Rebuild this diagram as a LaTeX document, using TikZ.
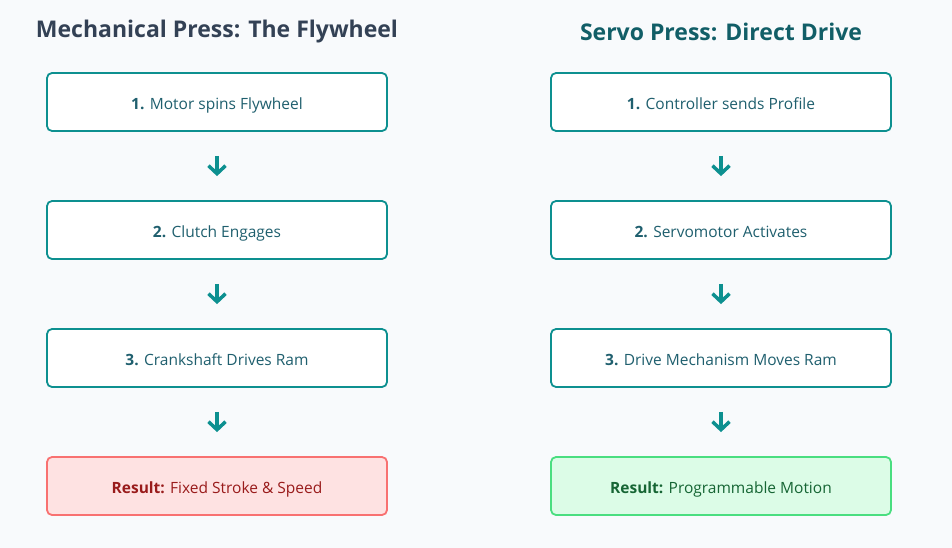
\documentclass[tikz,border=0pt]{standalone}
\usepackage{fontspec}
\setmainfont{Open Sans}
\usetikzlibrary{arrows.meta}
\definecolor{bg}{HTML}{F8FAFC}
\definecolor{teal}{HTML}{0D9090}
\definecolor{boxtxt}{HTML}{1F5F6E}
\definecolor{ltitle}{HTML}{334155}
\definecolor{rtitle}{HTML}{115E67}
\definecolor{redfill}{HTML}{FEE2E2}
\definecolor{redbd}{HTML}{F87171}
\definecolor{redtxt}{HTML}{991B1B}
\definecolor{grfill}{HTML}{DCFCE7}
\definecolor{grbd}{HTML}{4ADE80}
\definecolor{grtxt}{HTML}{166534}
\tikzset{
 stepbox/.style={draw=teal,line width=1.8pt,fill=white,rounded corners=5pt,minimum width=340pt,minimum height=58pt,text=boxtxt,font=\fontsize{15.5}{18}\selectfont,text depth=0pt,text height=15pt},
 redbox/.style={stepbox,draw=redbd,fill=redfill,text=redtxt},
 grbox/.style={stepbox,draw=grbd,fill=grfill,text=grtxt},
 ttl/.style={font=\fontsize{23}{28}\selectfont\bfseries},
 flow/.style={draw=teal,line width=3.5pt,-{Straight Barb[length=8pt,width=17pt,line width=3.5pt]},shorten <=24pt,shorten >=24pt}
}
\begin{document}
\begin{tikzpicture}[x=1pt,y=-1pt]
\fill[bg] (0,0) rectangle (952,548);
\useasboundingbox (0,0) rectangle (952,548);
\node[ttl,text=ltitle] (lt) at (217,32) {Mechanical Press: The Flywheel};
\node[ttl,text=rtitle] (rt) at (721,32) {Servo Press: Direct Drive};
\node[stepbox] (l1) at (217,102) {\textbf{1.} Motor spins Flywheel};
\node[stepbox] (l2) at (217,230) {\textbf{2.} Clutch Engages};
\node[stepbox] (l3) at (217,358) {\textbf{3.} Crankshaft Drives Ram};
\node[redbox] (l4) at (217,486) {\textbf{Result:} Fixed Stroke \& Speed};
\node[stepbox] (r1) at (721,102) {\textbf{1.} Controller sends Profile};
\node[stepbox] (r2) at (721,230) {\textbf{2.} Servomotor Activates};
\node[stepbox] (r3) at (721,358) {\textbf{3.} Drive Mechanism Moves Ram};
\node[grbox] (r4) at (721,486) {\textbf{Result:} Programmable Motion};
\foreach \c in {l,r}{
 \draw[flow] (\c1) -- (\c2);
 \draw[flow] (\c2) -- (\c3);
 \draw[flow] (\c3) -- (\c4);
}
\end{tikzpicture}
\end{document}
